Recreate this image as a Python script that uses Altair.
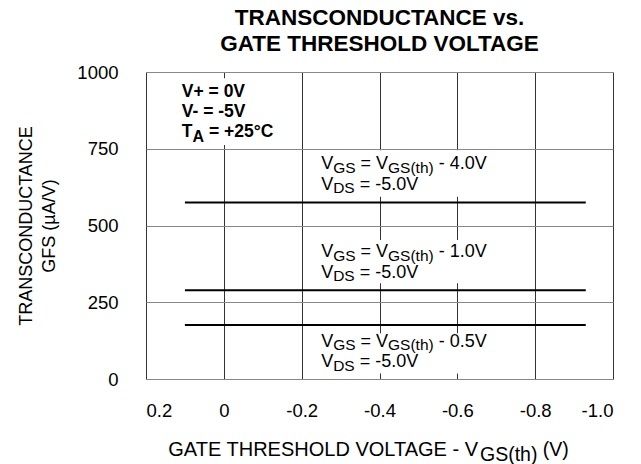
import altair as alt
import pandas as pd

# ---------------- data ----------------
x_start = 0.1
x_end = -0.93
series_labels = ["VGS = VGS(th) - 4.0V", "VGS = VGS(th) - 1.0V", "VGS = VGS(th) - 0.5V"]
gfs_values = [575, 289, 176]
vgs_steps = ["4.0", "1.0", "0.5"]

x_ticks = [0.2, 0.0, -0.2, -0.4, -0.6, -0.8, -1.0]
y_ticks = [0, 250, 500, 750, 1000]

rows = []
for lab, g in zip(series_labels, gfs_values):
    rows.append({"series": lab, "x": x_start, "gfs": g})
    rows.append({"series": lab, "x": x_end, "gfs": g})
df = pd.DataFrame(rows)

# ---------------- layout constants ----------------
FONT = "Liberation Sans"
PLOT_W, PLOT_H = 467, 307

# annotation anchors (data coordinates of first line start / baseline)
ann_x = -0.25
ann_y = [683, 396, 105]
cond_x, cond_y = 0.108, 919

# white knock-out boxes behind annotations (data coords)
boxes = pd.DataFrame({
    "x0": [-0.242, -0.242, -0.242, 0.123],
    "x1": [-0.71, -0.71, -0.71, -0.144],
    "y0": [745, 453, 149, 980],
    "y1": [594, 312, 18, 762],
})

W = {' ': 278, '(': 333, ')': 333, '-': 333, '.': 278, '/': 278, '=': 584, '+': 584,
     '°': 400, 'µ': 576, 'A': 667, 'C': 722, 'D': 722, 'E': 667, 'F': 611, 'G': 778,
     'H': 722, 'L': 556, 'N': 722, 'O': 778, 'R': 722, 'S': 667, 'T': 611, 'U': 722,
     'V': 667, 't': 278, 'h': 556, 'v': 500, 's': 500}
WB = dict(W, A=722)


def tw(s, size, bold=False):
    tbl = WB if bold else W
    return sum(tbl.get(c, 556) for c in s) / 1000.0 * size


one_row = alt.Data(values=[{"a": 1}])


def rich(pieces, xenc, yenc, main, sub, shift, bold=False, dy0=0, align="left"):
    layers = []
    cx = 0.0
    for txt, is_sub in pieces:
        size = sub if is_sub else main
        stripped = txt.lstrip(" ")
        cx += tw(txt[: len(txt) - len(stripped)], size, bold)
        layers.append(
            alt.Chart(one_row).mark_text(
                text=stripped, align=align, baseline="alphabetic", font=FONT,
                fontSize=size, fontWeight="bold" if bold else "normal",
                color="black", dx=cx, dy=dy0 + (shift if is_sub else 0),
            ).encode(x=xenc, y=yenc)
        )
        cx += tw(stripped, size, bold)
    return layers


# ---------------- chart ----------------
boxes_layer = alt.Chart(boxes).mark_rect(color="white").encode(
    x="x0:Q", x2="x1", y="y0:Q", y2="y1"
)

lines = alt.Chart(df).mark_line(color="black", strokeWidth=2).encode(
    x=alt.X("x:Q",
            scale=alt.Scale(domain=[0.2, -1.0], nice=False, zero=False),
            axis=alt.Axis(values=x_ticks, title=None, grid=True, domain=False, ticks=False,
                          labelFontSize=18.5, labelFont=FONT, labelColor="black",
                          labelPadding=22,
                          labelExpr="datum.value == 0 ? '0' : replace(format(datum.value, '.1f'), '\u2212', '-')",
                          gridColor="#333333", gridWidth=1)),
    y=alt.Y("gfs:Q",
            scale=alt.Scale(domain=[0, 1000], nice=False),
            axis=alt.Axis(values=y_ticks, format="d", title=["TRANSCONDUCTANCE", "GFS (µA/V)"],
                          grid=True, domain=False, ticks=False,
                          labelFontSize=18.5, labelFont=FONT, labelColor="black",
                          labelPadding=28,
                          titleFont=FONT, titleFontSize=18, titleFontWeight="normal",
                          titleColor="black", titleAngle=270, titleBaseline="middle",
                          titleAlign="center", titleLineHeight=23,
                          titleX=-120, titleY=153.5,
                          gridColor="#888888", gridWidth=1)),
    detail="series:N",
)

layers = [boxes_layer, lines]

for step, yv in zip(vgs_steps, ann_y):
    xe, ye = alt.datum(ann_x), alt.datum(yv)
    layers += rich([("V", False), ("GS", True), (" = V", False), ("GS(th)", True),
                    (" - " + step + "V", False)], xe, ye, 18, 15.5, 3.5)
    layers += rich([("V", False), ("DS", True), (" = -5.0V", False)], xe, ye, 18, 15.5, 3.5,
                   dy0=20.5)

xe, ye = alt.datum(cond_x), alt.datum(cond_y)
layers += rich([("V+ = 0V", False)], xe, ye, 17.5, 16, 5, bold=True)
layers += rich([("V- = -5V", False)], xe, ye, 17.5, 16, 5, bold=True, dy0=20)
layers += rich([("T", False), ("A", True), (" = +25°C", False)], xe, ye, 17.5, 16, 5,
               bold=True, dy0=40)

# x-axis title with subscript (pixel positions relative to plot area)
layers += rich([("GATE THRESHOLD VOLTAGE - V", False)],
               alt.value(332), alt.value(384), 20, 20, 0, align="right")
layers += rich([("GS(th)", True), (" (V)", False)],
               alt.value(334), alt.value(384), 19.5, 19.5, 4.5)

chart = alt.layer(*layers).properties(
    width=PLOT_W, height=PLOT_H,
    title=alt.TitleParams(
        text=["TRANSCONDUCTANCE vs.", "GATE THRESHOLD VOLTAGE"],
        font=FONT, fontSize=22.5, fontWeight="bold", color="black",
        lineHeight=25.5, anchor="middle", frame="group", baseline="bottom", offset=19,
        dy=34,
    ),
    autosize=alt.AutoSizeParams(type="none"),
    padding={"left": 138, "top": 64, "right": 20, "bottom": 95},
).configure_view(
    stroke="black", strokeWidth=1.5
).configure(background="white")

chart.save("out.html", embed_options={"renderer": "svg", "actions": False})
